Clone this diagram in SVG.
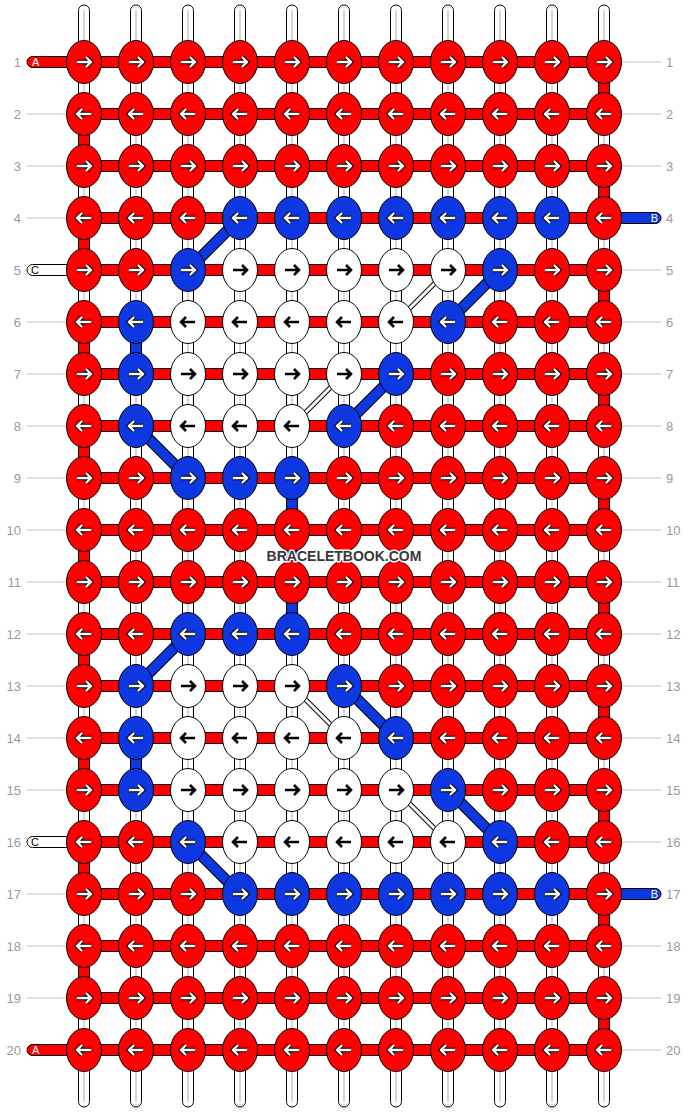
<svg xmlns="http://www.w3.org/2000/svg" xmlns:xlink="http://www.w3.org/1999/xlink" width="688" height="1112" viewBox="0 0 688 1112">
<style>
.r{fill:#ff0000}
.b{fill:#0d37e1}
.w{fill:#ffffff}
.vs{fill:#fff;stroke:#000;stroke-width:1}
.vc{stroke:#c8c8c8;stroke-width:1.5}
.hr{fill:#ff0000;stroke:#000;stroke-width:1}
.hb{fill:#0d37e1;stroke:#000;stroke-width:1}
.hw{fill:#fff;stroke:#000;stroke-width:1}
.dbo{stroke:#000;stroke-width:11.5;stroke-linecap:butt}
.dbi{stroke:#0d37e1;stroke-width:9.5;stroke-linecap:butt}
.dwo{stroke:#000;stroke-width:5}
.dwi{stroke:#fff;stroke-width:3}
.gl{stroke:#c0c0c0;stroke-width:1}
.num{font-family:"Liberation Sans",Arial,sans-serif;font-size:13px;fill:#999}
.sl{font-family:"Liberation Sans",Arial,sans-serif;font-size:11px}
.wm{font-family:"Liberation Sans",Arial,sans-serif;font-size:14px;font-weight:bold;fill:#383838;stroke:#fff;stroke-width:3;stroke-linejoin:round;paint-order:stroke}
</style>
<defs>
<path id="ar" d="M-7,0H6.5M2,-5L7,0L2,5" fill="none" stroke-linejoin="miter"/>
<g id="wr"><use xlink:href="#ar" stroke="#000" stroke-width="4.4"/><use xlink:href="#ar" stroke="#fff" stroke-width="2.4"/></g>
<g id="wl" transform="scale(-1,1)"><use xlink:href="#ar" stroke="#000" stroke-width="4.4"/><use xlink:href="#ar" stroke="#fff" stroke-width="2.4"/></g>
<g id="br"><use xlink:href="#ar" stroke="#000" stroke-width="2.6"/></g>
<g id="bl" transform="scale(-1,1)"><use xlink:href="#ar" stroke="#000" stroke-width="2.6"/></g>
<ellipse id="ke" rx="17.5" ry="21.5" stroke="#000" stroke-width="1"/>
</defs>
<rect width="688" height="1112" fill="#fff"/>
<g id="labels">
<g class="gl">
<line x1="26" y1="114" x2="67" y2="114"/><line x1="26" y1="166" x2="67" y2="166"/><line x1="26" y1="218" x2="67" y2="218"/><line x1="26" y1="322" x2="67" y2="322"/><line x1="26" y1="374" x2="67" y2="374"/><line x1="26" y1="426" x2="67" y2="426"/><line x1="26" y1="478" x2="67" y2="478"/><line x1="26" y1="530" x2="67" y2="530"/><line x1="26" y1="582" x2="67" y2="582"/><line x1="26" y1="634" x2="67" y2="634"/><line x1="26" y1="686" x2="67" y2="686"/><line x1="26" y1="738" x2="67" y2="738"/><line x1="26" y1="790" x2="67" y2="790"/><line x1="26" y1="894" x2="67" y2="894"/><line x1="26" y1="946" x2="67" y2="946"/><line x1="26" y1="998" x2="67" y2="998"/>
<line x1="621" y1="62" x2="662" y2="62"/><line x1="621" y1="114" x2="662" y2="114"/><line x1="621" y1="166" x2="662" y2="166"/><line x1="621" y1="270" x2="662" y2="270"/><line x1="621" y1="322" x2="662" y2="322"/><line x1="621" y1="374" x2="662" y2="374"/><line x1="621" y1="426" x2="662" y2="426"/><line x1="621" y1="478" x2="662" y2="478"/><line x1="621" y1="530" x2="662" y2="530"/><line x1="621" y1="582" x2="662" y2="582"/><line x1="621" y1="634" x2="662" y2="634"/><line x1="621" y1="686" x2="662" y2="686"/><line x1="621" y1="738" x2="662" y2="738"/><line x1="621" y1="790" x2="662" y2="790"/><line x1="621" y1="842" x2="662" y2="842"/><line x1="621" y1="946" x2="662" y2="946"/><line x1="621" y1="998" x2="662" y2="998"/><line x1="621" y1="1050" x2="662" y2="1050"/>
</g>
<g class="num" text-anchor="end">
<text x="21" y="67">1</text><text x="21" y="119">2</text><text x="21" y="171">3</text><text x="21" y="223">4</text><text x="21" y="275">5</text><text x="21" y="327">6</text><text x="21" y="379">7</text><text x="21" y="431">8</text><text x="21" y="483">9</text><text x="21" y="535">10</text><text x="21" y="587">11</text><text x="21" y="639">12</text><text x="21" y="691">13</text><text x="21" y="743">14</text><text x="21" y="795">15</text><text x="21" y="847">16</text><text x="21" y="899">17</text><text x="21" y="951">18</text><text x="21" y="1003">19</text><text x="21" y="1055">20</text>
</g>
<g class="num">
<text x="666" y="67">1</text><text x="666" y="119">2</text><text x="666" y="171">3</text><text x="666" y="223">4</text><text x="666" y="275">5</text><text x="666" y="327">6</text><text x="666" y="379">7</text><text x="666" y="431">8</text><text x="666" y="483">9</text><text x="666" y="535">10</text><text x="666" y="587">11</text><text x="666" y="639">12</text><text x="666" y="691">13</text><text x="666" y="743">14</text><text x="666" y="795">15</text><text x="666" y="847">16</text><text x="666" y="899">17</text><text x="666" y="951">18</text><text x="666" y="1003">19</text><text x="666" y="1055">20</text>
</g>
</g>
<g id="connectors">
<g id="vertical-strings">
<rect class="vs" x="78.5" y="5" width="11" height="1102" rx="5.5"/><rect class="vs" x="130.5" y="5" width="11" height="1102" rx="5.5"/><rect class="vs" x="182.5" y="5" width="11" height="1102" rx="5.5"/><rect class="vs" x="234.5" y="5" width="11" height="1102" rx="5.5"/><rect class="vs" x="286.5" y="5" width="11" height="1102" rx="5.5"/><rect class="vs" x="338.5" y="5" width="11" height="1102" rx="5.5"/><rect class="vs" x="390.5" y="5" width="11" height="1102" rx="5.5"/><rect class="vs" x="442.5" y="5" width="11" height="1102" rx="5.5"/><rect class="vs" x="494.5" y="5" width="11" height="1102" rx="5.5"/><rect class="vs" x="546.5" y="5" width="11" height="1102" rx="5.5"/><rect class="vs" x="598.5" y="5" width="11" height="1102" rx="5.5"/>
<g class="vc"><line x1="84" y1="10" x2="84" y2="1102"/><line x1="136" y1="10" x2="136" y2="1102"/><line x1="188" y1="10" x2="188" y2="1102"/><line x1="240" y1="10" x2="240" y2="1102"/><line x1="292" y1="10" x2="292" y2="1102"/><line x1="344" y1="10" x2="344" y2="1102"/><line x1="396" y1="10" x2="396" y2="1102"/><line x1="448" y1="10" x2="448" y2="1102"/><line x1="500" y1="10" x2="500" y2="1102"/><line x1="552" y1="10" x2="552" y2="1102"/><line x1="604" y1="10" x2="604" y2="1102"/></g>
</g>
<g id="string-ends">
<rect class="hr" x="27" y="56.5" width="60" height="11" rx="5.5"/>
<rect class="hr" x="27" y="1044.5" width="60" height="11" rx="5.5"/>
<rect class="hw" x="27" y="264.5" width="60" height="11" rx="5.5"/>
<rect class="hw" x="27" y="836.5" width="60" height="11" rx="5.5"/>
<rect class="hb" x="600" y="212.5" width="61" height="11" rx="5.5"/>
<rect class="hb" x="600" y="888.5" width="61" height="11" rx="5.5"/>
<g class="sl">
<text x="32" y="66" fill="#fff">A</text><text x="32" y="1054" fill="#fff">A</text>
<text x="31" y="274" fill="#000">C</text><text x="31" y="846" fill="#000">C</text>
<text x="658" y="222" fill="#fff" text-anchor="end">B</text><text x="658" y="898" fill="#fff" text-anchor="end">B</text>
</g>
</g>
<g id="turns">
<rect class="hr" x="598.5" y="62" width="11" height="52"/><rect class="hr" x="78.5" y="114" width="11" height="52"/><rect class="hr" x="598.5" y="166" width="11" height="52"/><rect class="hr" x="78.5" y="218" width="11" height="52"/><rect class="hr" x="598.5" y="270" width="11" height="52"/><rect class="hr" x="78.5" y="322" width="11" height="52"/><rect class="hr" x="598.5" y="374" width="11" height="52"/><rect class="hr" x="78.5" y="426" width="11" height="52"/><rect class="hr" x="598.5" y="478" width="11" height="52"/><rect class="hr" x="78.5" y="530" width="11" height="52"/><rect class="hr" x="598.5" y="582" width="11" height="52"/><rect class="hr" x="78.5" y="634" width="11" height="52"/><rect class="hr" x="598.5" y="686" width="11" height="52"/><rect class="hr" x="78.5" y="738" width="11" height="52"/><rect class="hr" x="598.5" y="790" width="11" height="52"/><rect class="hr" x="78.5" y="842" width="11" height="52"/><rect class="hr" x="598.5" y="894" width="11" height="52"/><rect class="hr" x="78.5" y="946" width="11" height="52"/><rect class="hr" x="598.5" y="998" width="11" height="52"/>
</g>
<g id="rows">
<rect class="hr" x="84" y="56.5" width="520" height="11"/><rect class="hr" x="84" y="108.5" width="520" height="11"/><rect class="hr" x="84" y="160.5" width="520" height="11"/><rect class="hr" x="84" y="212.5" width="520" height="11"/><rect class="hr" x="84" y="264.5" width="520" height="11"/><rect class="hr" x="84" y="316.5" width="520" height="11"/><rect class="hr" x="84" y="368.5" width="520" height="11"/><rect class="hr" x="84" y="420.5" width="520" height="11"/><rect class="hr" x="84" y="472.5" width="520" height="11"/><rect class="hr" x="84" y="524.5" width="520" height="11"/><rect class="hr" x="84" y="576.5" width="520" height="11"/><rect class="hr" x="84" y="628.5" width="520" height="11"/><rect class="hr" x="84" y="680.5" width="520" height="11"/><rect class="hr" x="84" y="732.5" width="520" height="11"/><rect class="hr" x="84" y="784.5" width="520" height="11"/><rect class="hr" x="84" y="836.5" width="520" height="11"/><rect class="hr" x="84" y="888.5" width="520" height="11"/><rect class="hr" x="84" y="940.5" width="520" height="11"/><rect class="hr" x="84" y="992.5" width="520" height="11"/><rect class="hr" x="84" y="1044.5" width="520" height="11"/>
</g>
<g id="carried-blue">
<rect class="hb" x="130.5" y="322" width="11" height="52"/>
<rect class="hb" x="286.5" y="478" width="11" height="156"/>
<rect class="hb" x="130.5" y="738" width="11" height="52"/>
<g class="dbo"><line x1="240" y1="218" x2="188" y2="270"/><line x1="500" y1="270" x2="448" y2="322"/><line x1="396" y1="374" x2="344" y2="426"/><line x1="136" y1="426" x2="188" y2="478"/><line x1="188" y1="634" x2="136" y2="686"/><line x1="344" y1="686" x2="396" y2="738"/><line x1="448" y1="790" x2="500" y2="842"/><line x1="188" y1="842" x2="240" y2="894"/></g>
<g class="dbi"><line x1="240" y1="218" x2="188" y2="270"/><line x1="500" y1="270" x2="448" y2="322"/><line x1="396" y1="374" x2="344" y2="426"/><line x1="136" y1="426" x2="188" y2="478"/><line x1="188" y1="634" x2="136" y2="686"/><line x1="344" y1="686" x2="396" y2="738"/><line x1="448" y1="790" x2="500" y2="842"/><line x1="188" y1="842" x2="240" y2="894"/></g>
</g>
<g id="carried-white">
<g class="dwo"><line x1="448" y1="270" x2="396" y2="322"/><line x1="344" y1="374" x2="292" y2="426"/><line x1="292" y1="686" x2="344" y2="738"/><line x1="396" y1="790" x2="448" y2="842"/></g>
<g class="dwi"><line x1="448" y1="270" x2="396" y2="322"/><line x1="344" y1="374" x2="292" y2="426"/><line x1="292" y1="686" x2="344" y2="738"/><line x1="396" y1="790" x2="448" y2="842"/></g>
</g>
</g>
<g id="knots">
<g id="k1-1" class="r" transform="translate(84,62)"><use xlink:href="#ke"/><use xlink:href="#wr"/></g>
<g id="k1-2" class="r" transform="translate(136,62)"><use xlink:href="#ke"/><use xlink:href="#wr"/></g>
<g id="k1-3" class="r" transform="translate(188,62)"><use xlink:href="#ke"/><use xlink:href="#wr"/></g>
<g id="k1-4" class="r" transform="translate(240,62)"><use xlink:href="#ke"/><use xlink:href="#wr"/></g>
<g id="k1-5" class="r" transform="translate(292,62)"><use xlink:href="#ke"/><use xlink:href="#wr"/></g>
<g id="k1-6" class="r" transform="translate(344,62)"><use xlink:href="#ke"/><use xlink:href="#wr"/></g>
<g id="k1-7" class="r" transform="translate(396,62)"><use xlink:href="#ke"/><use xlink:href="#wr"/></g>
<g id="k1-8" class="r" transform="translate(448,62)"><use xlink:href="#ke"/><use xlink:href="#wr"/></g>
<g id="k1-9" class="r" transform="translate(500,62)"><use xlink:href="#ke"/><use xlink:href="#wr"/></g>
<g id="k1-10" class="r" transform="translate(552,62)"><use xlink:href="#ke"/><use xlink:href="#wr"/></g>
<g id="k1-11" class="r" transform="translate(604,62)"><use xlink:href="#ke"/><use xlink:href="#wr"/></g>
<g id="k2-1" class="r" transform="translate(84,114)"><use xlink:href="#ke"/><use xlink:href="#wl"/></g>
<g id="k2-2" class="r" transform="translate(136,114)"><use xlink:href="#ke"/><use xlink:href="#wl"/></g>
<g id="k2-3" class="r" transform="translate(188,114)"><use xlink:href="#ke"/><use xlink:href="#wl"/></g>
<g id="k2-4" class="r" transform="translate(240,114)"><use xlink:href="#ke"/><use xlink:href="#wl"/></g>
<g id="k2-5" class="r" transform="translate(292,114)"><use xlink:href="#ke"/><use xlink:href="#wl"/></g>
<g id="k2-6" class="r" transform="translate(344,114)"><use xlink:href="#ke"/><use xlink:href="#wl"/></g>
<g id="k2-7" class="r" transform="translate(396,114)"><use xlink:href="#ke"/><use xlink:href="#wl"/></g>
<g id="k2-8" class="r" transform="translate(448,114)"><use xlink:href="#ke"/><use xlink:href="#wl"/></g>
<g id="k2-9" class="r" transform="translate(500,114)"><use xlink:href="#ke"/><use xlink:href="#wl"/></g>
<g id="k2-10" class="r" transform="translate(552,114)"><use xlink:href="#ke"/><use xlink:href="#wl"/></g>
<g id="k2-11" class="r" transform="translate(604,114)"><use xlink:href="#ke"/><use xlink:href="#wl"/></g>
<g id="k3-1" class="r" transform="translate(84,166)"><use xlink:href="#ke"/><use xlink:href="#wr"/></g>
<g id="k3-2" class="r" transform="translate(136,166)"><use xlink:href="#ke"/><use xlink:href="#wr"/></g>
<g id="k3-3" class="r" transform="translate(188,166)"><use xlink:href="#ke"/><use xlink:href="#wr"/></g>
<g id="k3-4" class="r" transform="translate(240,166)"><use xlink:href="#ke"/><use xlink:href="#wr"/></g>
<g id="k3-5" class="r" transform="translate(292,166)"><use xlink:href="#ke"/><use xlink:href="#wr"/></g>
<g id="k3-6" class="r" transform="translate(344,166)"><use xlink:href="#ke"/><use xlink:href="#wr"/></g>
<g id="k3-7" class="r" transform="translate(396,166)"><use xlink:href="#ke"/><use xlink:href="#wr"/></g>
<g id="k3-8" class="r" transform="translate(448,166)"><use xlink:href="#ke"/><use xlink:href="#wr"/></g>
<g id="k3-9" class="r" transform="translate(500,166)"><use xlink:href="#ke"/><use xlink:href="#wr"/></g>
<g id="k3-10" class="r" transform="translate(552,166)"><use xlink:href="#ke"/><use xlink:href="#wr"/></g>
<g id="k3-11" class="r" transform="translate(604,166)"><use xlink:href="#ke"/><use xlink:href="#wr"/></g>
<g id="k4-1" class="r" transform="translate(84,218)"><use xlink:href="#ke"/><use xlink:href="#wl"/></g>
<g id="k4-2" class="r" transform="translate(136,218)"><use xlink:href="#ke"/><use xlink:href="#wl"/></g>
<g id="k4-3" class="r" transform="translate(188,218)"><use xlink:href="#ke"/><use xlink:href="#wl"/></g>
<g id="k4-4" class="b" transform="translate(240,218)"><use xlink:href="#ke"/><use xlink:href="#wl"/></g>
<g id="k4-5" class="b" transform="translate(292,218)"><use xlink:href="#ke"/><use xlink:href="#wl"/></g>
<g id="k4-6" class="b" transform="translate(344,218)"><use xlink:href="#ke"/><use xlink:href="#wl"/></g>
<g id="k4-7" class="b" transform="translate(396,218)"><use xlink:href="#ke"/><use xlink:href="#wl"/></g>
<g id="k4-8" class="b" transform="translate(448,218)"><use xlink:href="#ke"/><use xlink:href="#wl"/></g>
<g id="k4-9" class="b" transform="translate(500,218)"><use xlink:href="#ke"/><use xlink:href="#wl"/></g>
<g id="k4-10" class="b" transform="translate(552,218)"><use xlink:href="#ke"/><use xlink:href="#wl"/></g>
<g id="k4-11" class="r" transform="translate(604,218)"><use xlink:href="#ke"/><use xlink:href="#wl"/></g>
<g id="k5-1" class="r" transform="translate(84,270)"><use xlink:href="#ke"/><use xlink:href="#wr"/></g>
<g id="k5-2" class="r" transform="translate(136,270)"><use xlink:href="#ke"/><use xlink:href="#wr"/></g>
<g id="k5-3" class="b" transform="translate(188,270)"><use xlink:href="#ke"/><use xlink:href="#wr"/></g>
<g id="k5-4" class="w" transform="translate(240,270)"><use xlink:href="#ke"/><use xlink:href="#br"/></g>
<g id="k5-5" class="w" transform="translate(292,270)"><use xlink:href="#ke"/><use xlink:href="#br"/></g>
<g id="k5-6" class="w" transform="translate(344,270)"><use xlink:href="#ke"/><use xlink:href="#br"/></g>
<g id="k5-7" class="w" transform="translate(396,270)"><use xlink:href="#ke"/><use xlink:href="#br"/></g>
<g id="k5-8" class="w" transform="translate(448,270)"><use xlink:href="#ke"/><use xlink:href="#br"/></g>
<g id="k5-9" class="b" transform="translate(500,270)"><use xlink:href="#ke"/><use xlink:href="#wr"/></g>
<g id="k5-10" class="r" transform="translate(552,270)"><use xlink:href="#ke"/><use xlink:href="#wr"/></g>
<g id="k5-11" class="r" transform="translate(604,270)"><use xlink:href="#ke"/><use xlink:href="#wr"/></g>
<g id="k6-1" class="r" transform="translate(84,322)"><use xlink:href="#ke"/><use xlink:href="#wl"/></g>
<g id="k6-2" class="b" transform="translate(136,322)"><use xlink:href="#ke"/><use xlink:href="#wl"/></g>
<g id="k6-3" class="w" transform="translate(188,322)"><use xlink:href="#ke"/><use xlink:href="#bl"/></g>
<g id="k6-4" class="w" transform="translate(240,322)"><use xlink:href="#ke"/><use xlink:href="#bl"/></g>
<g id="k6-5" class="w" transform="translate(292,322)"><use xlink:href="#ke"/><use xlink:href="#bl"/></g>
<g id="k6-6" class="w" transform="translate(344,322)"><use xlink:href="#ke"/><use xlink:href="#bl"/></g>
<g id="k6-7" class="w" transform="translate(396,322)"><use xlink:href="#ke"/><use xlink:href="#bl"/></g>
<g id="k6-8" class="b" transform="translate(448,322)"><use xlink:href="#ke"/><use xlink:href="#wl"/></g>
<g id="k6-9" class="r" transform="translate(500,322)"><use xlink:href="#ke"/><use xlink:href="#wl"/></g>
<g id="k6-10" class="r" transform="translate(552,322)"><use xlink:href="#ke"/><use xlink:href="#wl"/></g>
<g id="k6-11" class="r" transform="translate(604,322)"><use xlink:href="#ke"/><use xlink:href="#wl"/></g>
<g id="k7-1" class="r" transform="translate(84,374)"><use xlink:href="#ke"/><use xlink:href="#wr"/></g>
<g id="k7-2" class="b" transform="translate(136,374)"><use xlink:href="#ke"/><use xlink:href="#wr"/></g>
<g id="k7-3" class="w" transform="translate(188,374)"><use xlink:href="#ke"/><use xlink:href="#br"/></g>
<g id="k7-4" class="w" transform="translate(240,374)"><use xlink:href="#ke"/><use xlink:href="#br"/></g>
<g id="k7-5" class="w" transform="translate(292,374)"><use xlink:href="#ke"/><use xlink:href="#br"/></g>
<g id="k7-6" class="w" transform="translate(344,374)"><use xlink:href="#ke"/><use xlink:href="#br"/></g>
<g id="k7-7" class="b" transform="translate(396,374)"><use xlink:href="#ke"/><use xlink:href="#wr"/></g>
<g id="k7-8" class="r" transform="translate(448,374)"><use xlink:href="#ke"/><use xlink:href="#wr"/></g>
<g id="k7-9" class="r" transform="translate(500,374)"><use xlink:href="#ke"/><use xlink:href="#wr"/></g>
<g id="k7-10" class="r" transform="translate(552,374)"><use xlink:href="#ke"/><use xlink:href="#wr"/></g>
<g id="k7-11" class="r" transform="translate(604,374)"><use xlink:href="#ke"/><use xlink:href="#wr"/></g>
<g id="k8-1" class="r" transform="translate(84,426)"><use xlink:href="#ke"/><use xlink:href="#wl"/></g>
<g id="k8-2" class="b" transform="translate(136,426)"><use xlink:href="#ke"/><use xlink:href="#wl"/></g>
<g id="k8-3" class="w" transform="translate(188,426)"><use xlink:href="#ke"/><use xlink:href="#bl"/></g>
<g id="k8-4" class="w" transform="translate(240,426)"><use xlink:href="#ke"/><use xlink:href="#bl"/></g>
<g id="k8-5" class="w" transform="translate(292,426)"><use xlink:href="#ke"/><use xlink:href="#bl"/></g>
<g id="k8-6" class="b" transform="translate(344,426)"><use xlink:href="#ke"/><use xlink:href="#wl"/></g>
<g id="k8-7" class="r" transform="translate(396,426)"><use xlink:href="#ke"/><use xlink:href="#wl"/></g>
<g id="k8-8" class="r" transform="translate(448,426)"><use xlink:href="#ke"/><use xlink:href="#wl"/></g>
<g id="k8-9" class="r" transform="translate(500,426)"><use xlink:href="#ke"/><use xlink:href="#wl"/></g>
<g id="k8-10" class="r" transform="translate(552,426)"><use xlink:href="#ke"/><use xlink:href="#wl"/></g>
<g id="k8-11" class="r" transform="translate(604,426)"><use xlink:href="#ke"/><use xlink:href="#wl"/></g>
<g id="k9-1" class="r" transform="translate(84,478)"><use xlink:href="#ke"/><use xlink:href="#wr"/></g>
<g id="k9-2" class="r" transform="translate(136,478)"><use xlink:href="#ke"/><use xlink:href="#wr"/></g>
<g id="k9-3" class="b" transform="translate(188,478)"><use xlink:href="#ke"/><use xlink:href="#wr"/></g>
<g id="k9-4" class="b" transform="translate(240,478)"><use xlink:href="#ke"/><use xlink:href="#wr"/></g>
<g id="k9-5" class="b" transform="translate(292,478)"><use xlink:href="#ke"/><use xlink:href="#wr"/></g>
<g id="k9-6" class="r" transform="translate(344,478)"><use xlink:href="#ke"/><use xlink:href="#wr"/></g>
<g id="k9-7" class="r" transform="translate(396,478)"><use xlink:href="#ke"/><use xlink:href="#wr"/></g>
<g id="k9-8" class="r" transform="translate(448,478)"><use xlink:href="#ke"/><use xlink:href="#wr"/></g>
<g id="k9-9" class="r" transform="translate(500,478)"><use xlink:href="#ke"/><use xlink:href="#wr"/></g>
<g id="k9-10" class="r" transform="translate(552,478)"><use xlink:href="#ke"/><use xlink:href="#wr"/></g>
<g id="k9-11" class="r" transform="translate(604,478)"><use xlink:href="#ke"/><use xlink:href="#wr"/></g>
<g id="k10-1" class="r" transform="translate(84,530)"><use xlink:href="#ke"/><use xlink:href="#wl"/></g>
<g id="k10-2" class="r" transform="translate(136,530)"><use xlink:href="#ke"/><use xlink:href="#wl"/></g>
<g id="k10-3" class="r" transform="translate(188,530)"><use xlink:href="#ke"/><use xlink:href="#wl"/></g>
<g id="k10-4" class="r" transform="translate(240,530)"><use xlink:href="#ke"/><use xlink:href="#wl"/></g>
<g id="k10-5" class="r" transform="translate(292,530)"><use xlink:href="#ke"/><use xlink:href="#wl"/></g>
<g id="k10-6" class="r" transform="translate(344,530)"><use xlink:href="#ke"/><use xlink:href="#wl"/></g>
<g id="k10-7" class="r" transform="translate(396,530)"><use xlink:href="#ke"/><use xlink:href="#wl"/></g>
<g id="k10-8" class="r" transform="translate(448,530)"><use xlink:href="#ke"/><use xlink:href="#wl"/></g>
<g id="k10-9" class="r" transform="translate(500,530)"><use xlink:href="#ke"/><use xlink:href="#wl"/></g>
<g id="k10-10" class="r" transform="translate(552,530)"><use xlink:href="#ke"/><use xlink:href="#wl"/></g>
<g id="k10-11" class="r" transform="translate(604,530)"><use xlink:href="#ke"/><use xlink:href="#wl"/></g>
<g id="k11-1" class="r" transform="translate(84,582)"><use xlink:href="#ke"/><use xlink:href="#wr"/></g>
<g id="k11-2" class="r" transform="translate(136,582)"><use xlink:href="#ke"/><use xlink:href="#wr"/></g>
<g id="k11-3" class="r" transform="translate(188,582)"><use xlink:href="#ke"/><use xlink:href="#wr"/></g>
<g id="k11-4" class="r" transform="translate(240,582)"><use xlink:href="#ke"/><use xlink:href="#wr"/></g>
<g id="k11-5" class="r" transform="translate(292,582)"><use xlink:href="#ke"/><use xlink:href="#wr"/></g>
<g id="k11-6" class="r" transform="translate(344,582)"><use xlink:href="#ke"/><use xlink:href="#wr"/></g>
<g id="k11-7" class="r" transform="translate(396,582)"><use xlink:href="#ke"/><use xlink:href="#wr"/></g>
<g id="k11-8" class="r" transform="translate(448,582)"><use xlink:href="#ke"/><use xlink:href="#wr"/></g>
<g id="k11-9" class="r" transform="translate(500,582)"><use xlink:href="#ke"/><use xlink:href="#wr"/></g>
<g id="k11-10" class="r" transform="translate(552,582)"><use xlink:href="#ke"/><use xlink:href="#wr"/></g>
<g id="k11-11" class="r" transform="translate(604,582)"><use xlink:href="#ke"/><use xlink:href="#wr"/></g>
<g id="k12-1" class="r" transform="translate(84,634)"><use xlink:href="#ke"/><use xlink:href="#wl"/></g>
<g id="k12-2" class="r" transform="translate(136,634)"><use xlink:href="#ke"/><use xlink:href="#wl"/></g>
<g id="k12-3" class="b" transform="translate(188,634)"><use xlink:href="#ke"/><use xlink:href="#wl"/></g>
<g id="k12-4" class="b" transform="translate(240,634)"><use xlink:href="#ke"/><use xlink:href="#wl"/></g>
<g id="k12-5" class="b" transform="translate(292,634)"><use xlink:href="#ke"/><use xlink:href="#wl"/></g>
<g id="k12-6" class="r" transform="translate(344,634)"><use xlink:href="#ke"/><use xlink:href="#wl"/></g>
<g id="k12-7" class="r" transform="translate(396,634)"><use xlink:href="#ke"/><use xlink:href="#wl"/></g>
<g id="k12-8" class="r" transform="translate(448,634)"><use xlink:href="#ke"/><use xlink:href="#wl"/></g>
<g id="k12-9" class="r" transform="translate(500,634)"><use xlink:href="#ke"/><use xlink:href="#wl"/></g>
<g id="k12-10" class="r" transform="translate(552,634)"><use xlink:href="#ke"/><use xlink:href="#wl"/></g>
<g id="k12-11" class="r" transform="translate(604,634)"><use xlink:href="#ke"/><use xlink:href="#wl"/></g>
<g id="k13-1" class="r" transform="translate(84,686)"><use xlink:href="#ke"/><use xlink:href="#wr"/></g>
<g id="k13-2" class="b" transform="translate(136,686)"><use xlink:href="#ke"/><use xlink:href="#wr"/></g>
<g id="k13-3" class="w" transform="translate(188,686)"><use xlink:href="#ke"/><use xlink:href="#br"/></g>
<g id="k13-4" class="w" transform="translate(240,686)"><use xlink:href="#ke"/><use xlink:href="#br"/></g>
<g id="k13-5" class="w" transform="translate(292,686)"><use xlink:href="#ke"/><use xlink:href="#br"/></g>
<g id="k13-6" class="b" transform="translate(344,686)"><use xlink:href="#ke"/><use xlink:href="#wr"/></g>
<g id="k13-7" class="r" transform="translate(396,686)"><use xlink:href="#ke"/><use xlink:href="#wr"/></g>
<g id="k13-8" class="r" transform="translate(448,686)"><use xlink:href="#ke"/><use xlink:href="#wr"/></g>
<g id="k13-9" class="r" transform="translate(500,686)"><use xlink:href="#ke"/><use xlink:href="#wr"/></g>
<g id="k13-10" class="r" transform="translate(552,686)"><use xlink:href="#ke"/><use xlink:href="#wr"/></g>
<g id="k13-11" class="r" transform="translate(604,686)"><use xlink:href="#ke"/><use xlink:href="#wr"/></g>
<g id="k14-1" class="r" transform="translate(84,738)"><use xlink:href="#ke"/><use xlink:href="#wl"/></g>
<g id="k14-2" class="b" transform="translate(136,738)"><use xlink:href="#ke"/><use xlink:href="#wl"/></g>
<g id="k14-3" class="w" transform="translate(188,738)"><use xlink:href="#ke"/><use xlink:href="#bl"/></g>
<g id="k14-4" class="w" transform="translate(240,738)"><use xlink:href="#ke"/><use xlink:href="#bl"/></g>
<g id="k14-5" class="w" transform="translate(292,738)"><use xlink:href="#ke"/><use xlink:href="#bl"/></g>
<g id="k14-6" class="w" transform="translate(344,738)"><use xlink:href="#ke"/><use xlink:href="#bl"/></g>
<g id="k14-7" class="b" transform="translate(396,738)"><use xlink:href="#ke"/><use xlink:href="#wl"/></g>
<g id="k14-8" class="r" transform="translate(448,738)"><use xlink:href="#ke"/><use xlink:href="#wl"/></g>
<g id="k14-9" class="r" transform="translate(500,738)"><use xlink:href="#ke"/><use xlink:href="#wl"/></g>
<g id="k14-10" class="r" transform="translate(552,738)"><use xlink:href="#ke"/><use xlink:href="#wl"/></g>
<g id="k14-11" class="r" transform="translate(604,738)"><use xlink:href="#ke"/><use xlink:href="#wl"/></g>
<g id="k15-1" class="r" transform="translate(84,790)"><use xlink:href="#ke"/><use xlink:href="#wr"/></g>
<g id="k15-2" class="b" transform="translate(136,790)"><use xlink:href="#ke"/><use xlink:href="#wr"/></g>
<g id="k15-3" class="w" transform="translate(188,790)"><use xlink:href="#ke"/><use xlink:href="#br"/></g>
<g id="k15-4" class="w" transform="translate(240,790)"><use xlink:href="#ke"/><use xlink:href="#br"/></g>
<g id="k15-5" class="w" transform="translate(292,790)"><use xlink:href="#ke"/><use xlink:href="#br"/></g>
<g id="k15-6" class="w" transform="translate(344,790)"><use xlink:href="#ke"/><use xlink:href="#br"/></g>
<g id="k15-7" class="w" transform="translate(396,790)"><use xlink:href="#ke"/><use xlink:href="#br"/></g>
<g id="k15-8" class="b" transform="translate(448,790)"><use xlink:href="#ke"/><use xlink:href="#wr"/></g>
<g id="k15-9" class="r" transform="translate(500,790)"><use xlink:href="#ke"/><use xlink:href="#wr"/></g>
<g id="k15-10" class="r" transform="translate(552,790)"><use xlink:href="#ke"/><use xlink:href="#wr"/></g>
<g id="k15-11" class="r" transform="translate(604,790)"><use xlink:href="#ke"/><use xlink:href="#wr"/></g>
<g id="k16-1" class="r" transform="translate(84,842)"><use xlink:href="#ke"/><use xlink:href="#wl"/></g>
<g id="k16-2" class="r" transform="translate(136,842)"><use xlink:href="#ke"/><use xlink:href="#wl"/></g>
<g id="k16-3" class="b" transform="translate(188,842)"><use xlink:href="#ke"/><use xlink:href="#wl"/></g>
<g id="k16-4" class="w" transform="translate(240,842)"><use xlink:href="#ke"/><use xlink:href="#bl"/></g>
<g id="k16-5" class="w" transform="translate(292,842)"><use xlink:href="#ke"/><use xlink:href="#bl"/></g>
<g id="k16-6" class="w" transform="translate(344,842)"><use xlink:href="#ke"/><use xlink:href="#bl"/></g>
<g id="k16-7" class="w" transform="translate(396,842)"><use xlink:href="#ke"/><use xlink:href="#bl"/></g>
<g id="k16-8" class="w" transform="translate(448,842)"><use xlink:href="#ke"/><use xlink:href="#bl"/></g>
<g id="k16-9" class="b" transform="translate(500,842)"><use xlink:href="#ke"/><use xlink:href="#wl"/></g>
<g id="k16-10" class="r" transform="translate(552,842)"><use xlink:href="#ke"/><use xlink:href="#wl"/></g>
<g id="k16-11" class="r" transform="translate(604,842)"><use xlink:href="#ke"/><use xlink:href="#wl"/></g>
<g id="k17-1" class="r" transform="translate(84,894)"><use xlink:href="#ke"/><use xlink:href="#wr"/></g>
<g id="k17-2" class="r" transform="translate(136,894)"><use xlink:href="#ke"/><use xlink:href="#wr"/></g>
<g id="k17-3" class="r" transform="translate(188,894)"><use xlink:href="#ke"/><use xlink:href="#wr"/></g>
<g id="k17-4" class="b" transform="translate(240,894)"><use xlink:href="#ke"/><use xlink:href="#wr"/></g>
<g id="k17-5" class="b" transform="translate(292,894)"><use xlink:href="#ke"/><use xlink:href="#wr"/></g>
<g id="k17-6" class="b" transform="translate(344,894)"><use xlink:href="#ke"/><use xlink:href="#wr"/></g>
<g id="k17-7" class="b" transform="translate(396,894)"><use xlink:href="#ke"/><use xlink:href="#wr"/></g>
<g id="k17-8" class="b" transform="translate(448,894)"><use xlink:href="#ke"/><use xlink:href="#wr"/></g>
<g id="k17-9" class="b" transform="translate(500,894)"><use xlink:href="#ke"/><use xlink:href="#wr"/></g>
<g id="k17-10" class="b" transform="translate(552,894)"><use xlink:href="#ke"/><use xlink:href="#wr"/></g>
<g id="k17-11" class="r" transform="translate(604,894)"><use xlink:href="#ke"/><use xlink:href="#wr"/></g>
<g id="k18-1" class="r" transform="translate(84,946)"><use xlink:href="#ke"/><use xlink:href="#wl"/></g>
<g id="k18-2" class="r" transform="translate(136,946)"><use xlink:href="#ke"/><use xlink:href="#wl"/></g>
<g id="k18-3" class="r" transform="translate(188,946)"><use xlink:href="#ke"/><use xlink:href="#wl"/></g>
<g id="k18-4" class="r" transform="translate(240,946)"><use xlink:href="#ke"/><use xlink:href="#wl"/></g>
<g id="k18-5" class="r" transform="translate(292,946)"><use xlink:href="#ke"/><use xlink:href="#wl"/></g>
<g id="k18-6" class="r" transform="translate(344,946)"><use xlink:href="#ke"/><use xlink:href="#wl"/></g>
<g id="k18-7" class="r" transform="translate(396,946)"><use xlink:href="#ke"/><use xlink:href="#wl"/></g>
<g id="k18-8" class="r" transform="translate(448,946)"><use xlink:href="#ke"/><use xlink:href="#wl"/></g>
<g id="k18-9" class="r" transform="translate(500,946)"><use xlink:href="#ke"/><use xlink:href="#wl"/></g>
<g id="k18-10" class="r" transform="translate(552,946)"><use xlink:href="#ke"/><use xlink:href="#wl"/></g>
<g id="k18-11" class="r" transform="translate(604,946)"><use xlink:href="#ke"/><use xlink:href="#wl"/></g>
<g id="k19-1" class="r" transform="translate(84,998)"><use xlink:href="#ke"/><use xlink:href="#wr"/></g>
<g id="k19-2" class="r" transform="translate(136,998)"><use xlink:href="#ke"/><use xlink:href="#wr"/></g>
<g id="k19-3" class="r" transform="translate(188,998)"><use xlink:href="#ke"/><use xlink:href="#wr"/></g>
<g id="k19-4" class="r" transform="translate(240,998)"><use xlink:href="#ke"/><use xlink:href="#wr"/></g>
<g id="k19-5" class="r" transform="translate(292,998)"><use xlink:href="#ke"/><use xlink:href="#wr"/></g>
<g id="k19-6" class="r" transform="translate(344,998)"><use xlink:href="#ke"/><use xlink:href="#wr"/></g>
<g id="k19-7" class="r" transform="translate(396,998)"><use xlink:href="#ke"/><use xlink:href="#wr"/></g>
<g id="k19-8" class="r" transform="translate(448,998)"><use xlink:href="#ke"/><use xlink:href="#wr"/></g>
<g id="k19-9" class="r" transform="translate(500,998)"><use xlink:href="#ke"/><use xlink:href="#wr"/></g>
<g id="k19-10" class="r" transform="translate(552,998)"><use xlink:href="#ke"/><use xlink:href="#wr"/></g>
<g id="k19-11" class="r" transform="translate(604,998)"><use xlink:href="#ke"/><use xlink:href="#wr"/></g>
<g id="k20-1" class="r" transform="translate(84,1050)"><use xlink:href="#ke"/><use xlink:href="#wl"/></g>
<g id="k20-2" class="r" transform="translate(136,1050)"><use xlink:href="#ke"/><use xlink:href="#wl"/></g>
<g id="k20-3" class="r" transform="translate(188,1050)"><use xlink:href="#ke"/><use xlink:href="#wl"/></g>
<g id="k20-4" class="r" transform="translate(240,1050)"><use xlink:href="#ke"/><use xlink:href="#wl"/></g>
<g id="k20-5" class="r" transform="translate(292,1050)"><use xlink:href="#ke"/><use xlink:href="#wl"/></g>
<g id="k20-6" class="r" transform="translate(344,1050)"><use xlink:href="#ke"/><use xlink:href="#wl"/></g>
<g id="k20-7" class="r" transform="translate(396,1050)"><use xlink:href="#ke"/><use xlink:href="#wl"/></g>
<g id="k20-8" class="r" transform="translate(448,1050)"><use xlink:href="#ke"/><use xlink:href="#wl"/></g>
<g id="k20-9" class="r" transform="translate(500,1050)"><use xlink:href="#ke"/><use xlink:href="#wl"/></g>
<g id="k20-10" class="r" transform="translate(552,1050)"><use xlink:href="#ke"/><use xlink:href="#wl"/></g>
<g id="k20-11" class="r" transform="translate(604,1050)"><use xlink:href="#ke"/><use xlink:href="#wl"/></g>
</g>
<text id="watermark" class="wm" x="344" y="561" text-anchor="middle">BRACELETBOOK.COM</text>
</svg>
